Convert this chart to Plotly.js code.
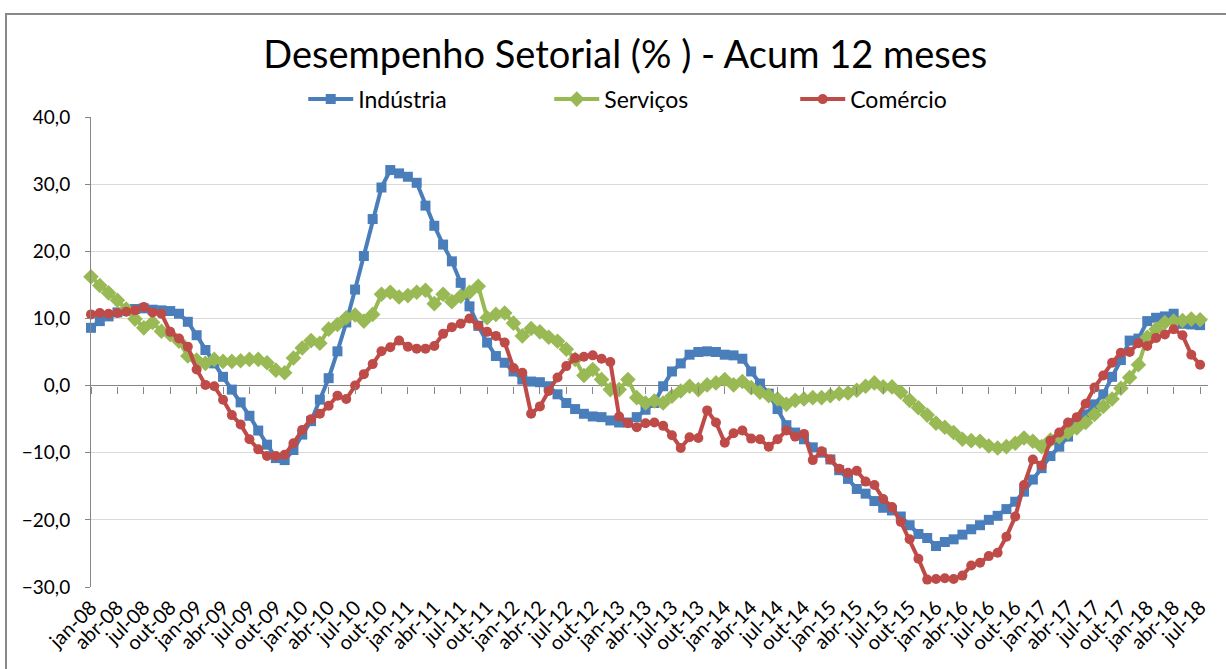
<!DOCTYPE html>
<html>
<head>
<meta charset="utf-8">
<script src="https://cdn.plot.ly/plotly-3.0.1.min.js"></script>
<style>
  html, body { margin: 0; padding: 0; background: #ffffff; overflow: hidden; }
  #chart { position: absolute; left: 0; top: 0; width: 1226px; height: 669px; }
  #frame { position: absolute; left: 5px; top: 13px; width: 1300px; height: 720px;
           border: 2px solid #898989; pointer-events: none; }
</style>
</head>
<body>
<div id="chart"></div>
<div id="frame"></div>
<script>
// month names and years used for the category axis
const monthNames = ['jan', 'fev', 'mar', 'abr', 'mai', 'jun', 'jul', 'ago', 'set', 'out', 'nov', 'dez'];
const years = ['08', '09', '10', '11', '12', '13', '14', '15', '16', '17', '18'];

// Indústria - acum. 12 meses (%), jan-08 .. jul-18
const industria = [
  8.6, 9.6, 10.3, 10.9, 11.2, 11.4, 11.5, 11.3, 11.2, 11.1, 10.7, 9.5,
  7.5, 5.3, 3.3, 1.3, -0.6, -2.5, -4.5, -6.7, -8.8, -10.8, -11.1, -9.6,
  -7.3, -5.3, -2.1, 1.1, 5.1, 9.4, 14.3, 19.3, 24.8, 29.5, 32.1, 31.6,
  31.1, 30.2, 26.8, 23.8, 21.0, 18.5, 15.3, 11.8, 8.9, 6.4, 4.4, 3.4,
  2.1, 0.9, 0.6, 0.5, -0.1, -1.3, -2.6, -3.5, -4.2, -4.6, -4.7, -5.2,
  -5.5, -5.5, -4.7, -3.6, -2.6, -0.1, 2.1, 3.3, 4.6, 5.0, 5.1, 5.0,
  4.6, 4.5, 4.0, 2.1, 0.3, -1.2, -3.5, -5.9, -7.0, -8.0, -9.2, -10.0,
  -11.0, -12.6, -13.9, -15.4, -16.1, -17.2, -18.2, -18.6, -19.5, -20.8, -22.1, -22.7,
  -23.9, -23.3, -22.9, -22.2, -21.4, -20.8, -20.0, -19.4, -18.4, -17.3, -15.8, -14.0,
  -12.3, -10.5, -9.1, -7.6, -5.8, -4.3, -2.8, -1.3, 1.3, 3.8, 6.7, 7.0,
  9.6, 10.1, 10.3, 10.7, 9.2, 9.1, 9.0
];

// Serviços
const servicos = [
  16.2, 14.9, 13.8, 12.7, 11.4, 9.9, 8.6, 9.4, 8.1, 7.6, 6.6, 4.4,
  3.8, 3.3, 3.9, 3.6, 3.6, 3.7, 3.9, 3.9, 3.4, 2.3, 1.9, 4.1,
  5.6, 6.7, 6.3, 8.4, 9.1, 10.1, 10.5, 9.6, 10.6, 13.6, 13.9, 13.2,
  13.4, 13.9, 14.2, 12.2, 13.6, 12.5, 13.3, 13.9, 14.8, 10.1, 10.6, 10.8,
  9.3, 7.4, 8.5, 8.0, 7.2, 6.6, 5.4, 3.9, 1.5, 2.4, 0.9, -0.6,
  -0.6, 0.9, -1.8, -2.6, -2.3, -2.6, -1.6, -0.8, -0.1, -0.6, 0.1, 0.4,
  0.9, 0.1, 0.6, -0.3, -1.0, -1.5, -2.0, -2.8, -2.2, -2.0, -1.8, -1.8,
  -1.5, -1.2, -1.1, -0.7, -0.1, 0.4, -0.2, -0.2, -1.0, -2.2, -3.3, -4.4,
  -5.6, -6.2, -7.0, -8.0, -8.2, -8.3, -9.0, -9.3, -9.1, -8.6, -7.8, -8.3,
  -9.1, -8.1, -7.6, -7.0, -6.3, -5.5, -4.3, -3.1, -2.0, -0.4, 1.2, 3.1,
  7.2, 8.4, 9.4, 9.6, 9.7, 9.9, 9.8
];

// Comércio
const comercio = [
  10.6, 10.8, 10.7, 10.8, 11.0, 11.2, 11.7, 10.9, 10.7, 8.0, 7.0, 5.8,
  2.4, 0.1, -0.1, -2.1, -4.4, -5.8, -8.0, -9.5, -10.5, -10.5, -10.3, -8.6,
  -6.6, -5.0, -4.2, -3.0, -1.5, -2.0, 0.0, 1.7, 3.2, 5.1, 5.7, 6.7,
  5.8, 5.5, 5.5, 5.9, 7.7, 8.7, 9.2, 10.0, 8.9, 8.0, 7.4, 6.4,
  2.6, 1.9, -4.2, -3.1, -0.8, 1.2, 2.9, 4.1, 4.3, 4.5, 4.0, 3.5,
  -4.6, -5.6, -6.2, -5.6, -5.5, -6.0, -7.4, -9.3, -7.7, -7.8, -3.7, -5.5,
  -8.5, -7.1, -6.7, -7.9, -8.0, -9.1, -8.0, -6.7, -7.6, -7.2, -11.1, -9.8,
  -11.0, -12.4, -13.0, -12.7, -14.3, -14.8, -16.9, -18.1, -20.3, -22.9, -25.8, -28.9,
  -28.8, -28.7, -28.8, -28.3, -26.8, -26.4, -25.4, -24.9, -22.5, -19.5, -14.8, -11.0,
  -11.9, -8.2, -7.0, -5.5, -4.7, -2.7, -0.3, 1.5, 3.4, 4.9, 5.0, 6.3,
  5.9, 7.1, 7.6, 8.4, 7.5, 4.6, 3.1
];

// category labels jan-08 .. jul-18
const months = [];
years.forEach(y => monthNames.forEach(m => months.push(m + '-' + y)));
months.length = industria.length;

const idx = months.map((_, i) => i);
const tickIdx = idx.filter(i => i % 3 === 0);
const tickText = tickIdx.map(i => months[i]);

const blue = '#4a7ebb', green = '#98b954', red = '#be4b48';

function serie(name, values, color, symbol, size) {
  return {
    x: idx, y: values, name: name, type: 'scatter', mode: 'lines+markers',
    line: { color: color, width: 4 },
    marker: { color: color, symbol: symbol, size: size },
    cliponaxis: false,
    hovertemplate: '%{text}: %{y:.1f}<extra>' + name + '</extra>',
    text: months
  };
}

const traces = [
  serie('Indústria', industria, blue, 'square', 10),
  serie('Serviços', servicos, green, 'diamond', 12),
  serie('Comércio', comercio, red, 'circle', 10),
  // carrier for the tick marks on the zero line
  { x: [0], y: [null], xaxis: 'x2', yaxis: 'y', showlegend: false, hoverinfo: 'skip', mode: 'lines' }
];

const xRange = [0, 126.9];

const layout = {
  width: 1226, height: 669,
  margin: { l: 91, r: 18, t: 117, b: 82 },
  paper_bgcolor: '#ffffff', plot_bgcolor: '#ffffff',
  font: { family: 'Lato, "Noto Sans", sans-serif', color: '#000000' },
  separators: ',.',
  title: {
    text: 'Desempenho Setorial (% ) - Acum 12 meses',
    font: { size: 38, color: '#000000' },
    xref: 'container', x: 0.51, xanchor: 'center',
    yref: 'container', y: 0.918, yanchor: 'middle'
  },
  showlegend: true,
  legend: {
    orientation: 'h', x: 0.19, xanchor: 'left', y: 1.038, yanchor: 'middle',
    font: { size: 23 }, itemwidth: 45, entrywidth: 186, entrywidthmode: 'pixels',
    bgcolor: 'rgba(0,0,0,0)'
  },
  xaxis: {
    range: xRange, tickmode: 'array', tickvals: tickIdx, ticktext: tickText,
    tickangle: -45, tickfont: { size: 20 }, ticks: '', showgrid: false,
    showline: false, zeroline: false, ticklabelstandoff: 4, fixedrange: true
  },
  xaxis2: {
    overlaying: 'x', anchor: 'free', position: 30 / 70, side: 'bottom',
    range: xRange, tickmode: 'array', tickvals: tickIdx, showticklabels: false,
    ticks: 'outside', ticklen: 7, tickcolor: '#868686', tickwidth: 1,
    showgrid: false, showline: false, zeroline: false, fixedrange: true
  },
  yaxis: {
    range: [-30, 40], dtick: 10, tick0: 0, tickformat: '.1f',
    tickfont: { size: 19 }, ticks: 'outside', ticklen: 5, tickcolor: '#868686',
    showline: true, linecolor: '#868686', linewidth: 1,
    gridcolor: '#d9d9d9', gridwidth: 1,
    zeroline: true, zerolinecolor: '#868686', zerolinewidth: 1,
    ticklabelstandoff: 11, fixedrange: true
  }
};

Plotly.newPlot('chart', traces, layout, { displayModeBar: false, staticPlot: false });
</script>
</body>
</html>
